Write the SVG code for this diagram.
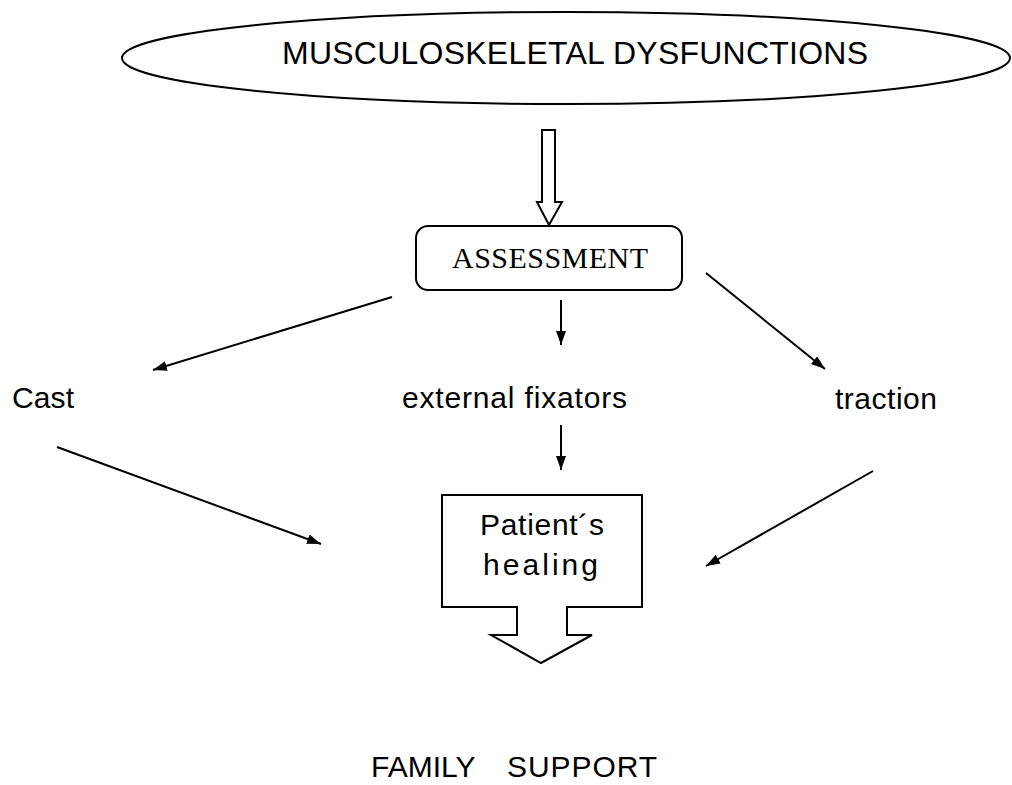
<svg xmlns="http://www.w3.org/2000/svg" width="1012" height="785" viewBox="0 0 1012 785">
<style>
.s{fill:none;stroke:#000;stroke-width:2}
.w{fill:#fff;stroke:#000;stroke-width:2}
.t{font-family:"Liberation Sans",Arial,sans-serif;font-size:30px;fill:#000}
.tr{font-family:"Liberation Serif","Times New Roman",serif;font-size:30px;fill:#000}
.c{stroke:#000;stroke-width:2;fill:none;marker-end:url(#ah)}
</style>
<defs>
<marker id="ah" markerUnits="userSpaceOnUse" markerWidth="16" markerHeight="12" refX="14" refY="5" orient="auto">
<path d="M0,0 L14,5 L0,10 Z" fill="#000"/>
</marker>
</defs>
<rect width="1012" height="785" fill="#fff"/>
<g id="dysfunctions">
<ellipse class="w" cx="566" cy="58" rx="444" ry="46"/>
<text class="t" x="282" y="64" font-size="32" style="font-size:32px" textLength="586" lengthAdjust="spacing">MUSCULOSKELETAL DYSFUNCTIONS</text>
</g>
<g id="bigArrow">
<path class="w" d="M542,130 H555 V202 H562 L549,225 L537,202 H542 Z"/>
</g>
<g id="assessment">
<rect class="w" x="416" y="226" width="266" height="64" rx="12"/>
<text class="tr" x="452" y="268" textLength="196" lengthAdjust="spacing">ASSESSMENT</text>
</g>
<g id="cast"><text class="t" x="12" y="408" textLength="62" lengthAdjust="spacing">Cast</text></g>
<g id="fixators"><text class="t" x="402" y="408" textLength="225" lengthAdjust="spacing">external fixators</text></g>
<g id="traction"><text class="t" x="835" y="409" textLength="102" lengthAdjust="spacing">traction</text></g>
<g id="healing">
<path class="w" d="M442,495 H642 V607 H567 V635 H592 L541,663 L491,635 H517 V607 H442 Z"/>
<text class="t" x="480" y="535" textLength="124" lengthAdjust="spacing">Patient´s</text>
<text class="t" x="483" y="575" textLength="115" lengthAdjust="spacing">healing</text>
</g>
<g id="family">
<text class="t" x="371" y="777">FAMILY <tspan x="507" textLength="150" lengthAdjust="spacing">SUPPORT</tspan></text>
</g>
<g id="connectors">
<line class="c" x1="392" y1="297" x2="153" y2="370"/>
<line class="c" x1="561" y1="300" x2="561" y2="345"/>
<line class="c" x1="706" y1="273" x2="825" y2="369"/>
<line class="c" x1="57" y1="447" x2="321" y2="544"/>
<line class="c" x1="561" y1="425" x2="561" y2="470"/>
<line class="c" x1="873" y1="471" x2="706" y2="566"/>
</g>
</svg>
